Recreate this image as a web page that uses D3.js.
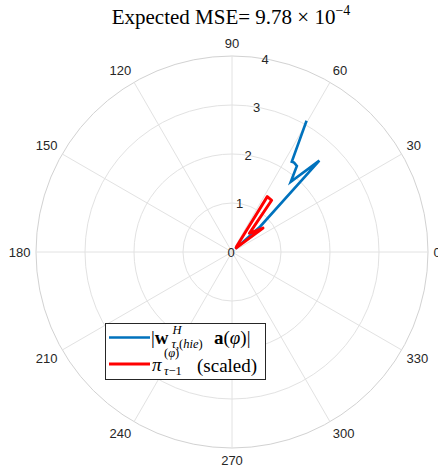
<!DOCTYPE html>
<html>
<head>
<meta charset="utf-8">
<script src="https://cdn.jsdelivr.net/npm/d3@7"></script>
<style>
  html, body { margin: 0; padding: 0; background: #fff; }
  svg { display: block; }
</style>
</head>
<body>
<svg id="chart" width="438" height="472"></svg>
<script>
// Angular grid (degrees) and radial ticks
const thetaTicks = [0, 30, 60, 90, 120, 150, 180, 210, 240, 270, 300, 330];
const rTicks = [0, 1, 2, 3, 4];

// Beam pattern magnitude |w^H a(phi)| over phi (degrees)
const beamPhi = [44.0, 42.1, 46.3, 50.1, 53.0, 55.2, 56.5, 60.4];
const beamMag = [0.10, 0.77, 2.58, 1.87, 2.20, 2.22, 2.21, 3.08];

// Scaled posterior pi over phi (degrees)
const postPhi = [50.0, 57.5, 52.5, 47.0, 37.7, 44.0];
const postMag = [0.14, 1.34, 1.33, 0.52, 0.80, 0.12];

const svg = d3.select("#chart");
const cx = 232, cy = 252, R = 196;
const r = d3.scaleLinear().domain([0, 4]).range([0, R]);
const toRad = d => d * Math.PI / 180;

const g = svg.append("g").attr("transform", `translate(${cx},${cy})`);

// Concentric grid circles
g.selectAll("circle.grid")
  .data(rTicks.filter(t => t > 0))
  .join("circle")
  .attr("r", d => r(d))
  .attr("fill", "none")
  .attr("stroke", d => d === 4 ? "#d2d2d2" : "#e2e2e2")
  .attr("stroke-width", 1);

// Spokes
g.selectAll("line.spoke")
  .data(thetaTicks)
  .join("line")
  .attr("x1", 0).attr("y1", 0)
  .attr("x2", d => r(4) * Math.cos(toRad(d)))
  .attr("y2", d => -r(4) * Math.sin(toRad(d)))
  .attr("stroke", "#e2e2e2")
  .attr("stroke-width", 1);

// Angle labels
const capH = 9.4;
g.selectAll("text.theta")
  .data(thetaTicks)
  .join("text")
  .attr("font-family", "'Liberation Sans', Arial, sans-serif")
  .attr("font-size", 13)
  .attr("fill", "#262626")
  .attr("text-anchor", d => {
    const c = Math.cos(toRad(d));
    return c > 0.01 ? "start" : (c < -0.01 ? "end" : "middle");
  })
  .attr("x", d => (R + 5.5) * Math.cos(toRad(d)))
  .attr("y", d => {
    const s = Math.sin(toRad(d));
    const y = -(R + 8) * s;
    return s > 0.01 ? y : (s < -0.01 ? y + capH : y + capH / 2);
  })
  .text(d => d);

// Radial tick labels along 80 degrees
const rAng = toRad(80);
g.selectAll("text.rtick")
  .data(rTicks)
  .join("text")
  .attr("font-family", "'Liberation Sans', Arial, sans-serif")
  .attr("font-size", 13)
  .attr("fill", "#262626")
  .attr("text-anchor", "middle")
  .attr("x", d => r(d) * Math.cos(rAng) - 1)
  .attr("y", d => -r(d) * Math.sin(rAng) + capH / 2)
  .text(d => d);

// Polar lines
const radial = d3.lineRadial()
  .angle(d => toRad(90 - d[0]))
  .radius(d => r(d[1]));

const beam = beamPhi.map((p, i) => [p, beamMag[i]]);
const post = postPhi.map((p, i) => [p, postMag[i]]);

g.append("path")
  .attr("d", radial(beam))
  .attr("fill", "none")
  .attr("stroke", "#0072BD")
  .attr("stroke-width", 2.6)
  .attr("stroke-linejoin", "miter");

g.append("path")
  .attr("d", radial(post))
  .attr("fill", "none")
  .attr("stroke", "#FF0000")
  .attr("stroke-width", 2.9)
  .attr("stroke-linejoin", "round")
  .attr("stroke-linecap", "round");

// Title
const serif = "'Liberation Serif', 'DejaVu Serif', serif";
const title = svg.append("text")
  .attr("x", 231).attr("y", 23.5)
  .attr("text-anchor", "middle")
  .attr("font-family", serif)
  .attr("font-size", 21)
  .attr("fill", "#000");
title.append("tspan").text("Expected MSE= 9.78 \u00d7 10");
title.append("tspan").attr("font-size", 14).attr("dy", -9).text("\u22124");

// Legend
const leg = svg.append("g");
leg.append("rect")
  .attr("x", 105.5).attr("y", 323.5)
  .attr("width", 160).attr("height", 56)
  .attr("fill", "#fff")
  .attr("stroke", "#262626")
  .attr("stroke-width", 1);

leg.append("line")
  .attr("x1", 109).attr("x2", 150).attr("y1", 337.5).attr("y2", 337.5)
  .attr("stroke", "#0072BD").attr("stroke-width", 2.6);
leg.append("line")
  .attr("x1", 109).attr("x2", 150).attr("y1", 364).attr("y2", 364)
  .attr("stroke", "#FF0000").attr("stroke-width", 2.9);

const big = 19, small = 12.5;
// |w^H_{tau,(hie)} a(phi)|
const t1 = leg.append("text").attr("font-family", serif).attr("font-size", big).attr("fill", "#000");
t1.append("tspan").attr("x", 151).attr("y", 344).text("|");
t1.append("tspan").attr("font-weight", "bold").text("w");
leg.append("text").attr("font-family", serif).attr("font-size", small).attr("font-style", "italic")
  .attr("x", 172.5).attr("y", 334).text("H");
leg.append("text").attr("font-family", serif).attr("font-size", small)
  .attr("x", 171.5).attr("y", 348)
  .call(t => {
    t.append("tspan").attr("font-style", "italic").text("\u03c4");
    t.append("tspan").text(",(");
    t.append("tspan").attr("font-style", "italic").text("hie");
    t.append("tspan").text(")");
  });
const t1b = leg.append("text").attr("font-family", serif).attr("font-size", big).attr("fill", "#000")
  .attr("x", 214).attr("y", 344);
t1b.append("tspan").attr("font-weight", "bold").text("a");
t1b.append("tspan").text("(");
t1b.append("tspan").attr("font-style", "italic").text("\u03c6");
t1b.append("tspan").text(")|");

// pi^{(phi)}_{tau-1} (scaled)
leg.append("text").attr("font-family", serif).attr("font-size", big).attr("font-style", "italic")
  .attr("x", 152).attr("y", 371).text("\u03c0");
leg.append("text").attr("font-family", serif).attr("font-size", small)
  .attr("x", 164).attr("y", 357)
  .call(t => {
    t.append("tspan").text("(");
    t.append("tspan").attr("font-style", "italic").text("\u03c6");
    t.append("tspan").text(")");
  });
leg.append("text").attr("font-family", serif).attr("font-size", small)
  .attr("x", 164).attr("y", 375)
  .call(t => {
    t.append("tspan").attr("font-style", "italic").text("\u03c4");
    t.append("tspan").text("\u22121");
  });
leg.append("text").attr("font-family", serif).attr("font-size", big)
  .attr("x", 197).attr("y", 371.5).text("(scaled)");
</script>
</body>
</html>
